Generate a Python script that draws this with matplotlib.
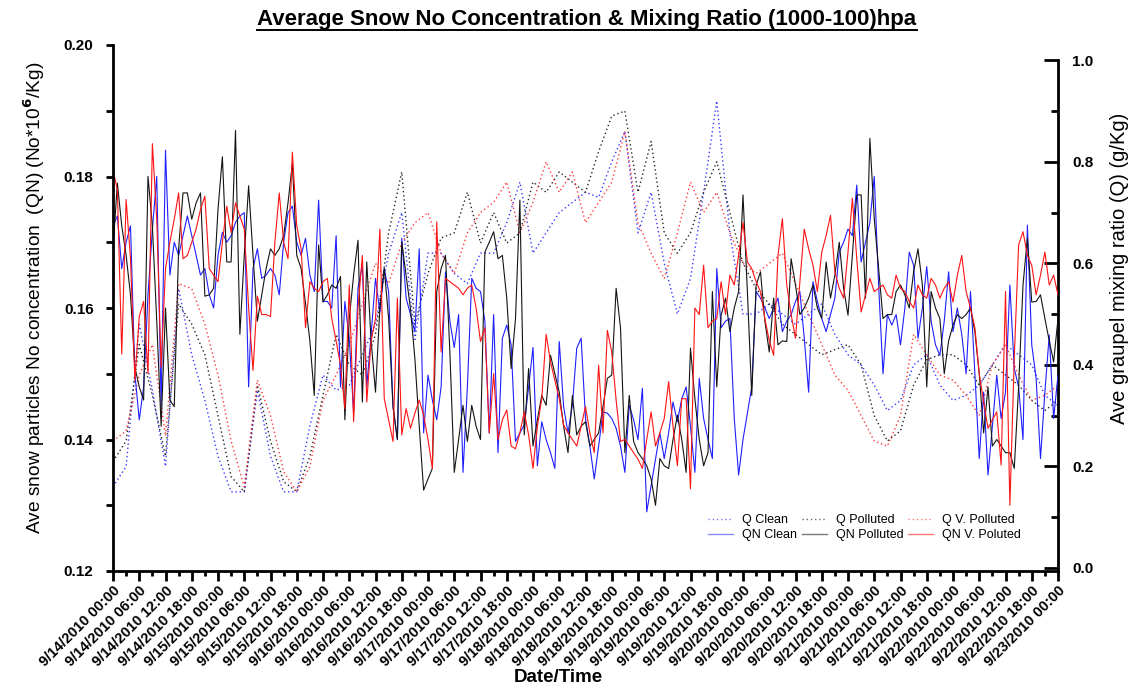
import pandas as pd
import matplotlib
matplotlib.use("Agg")
import matplotlib.pyplot as plt
import matplotlib.dates as mdates
from matplotlib import font_manager
from matplotlib.lines import Line2D

plt.rcParams['font.family'] = ['Liberation Sans', 'DejaVu Sans']

# hourly snow number concentration (left axis)
qn_clean = [
    0.1725, 0.174, 0.166, 0.170, 0.1725, 0.150, 0.143, 0.148, 0.162, 0.172, 0.180, 0.145,
    0.184, 0.165, 0.170, 0.168, 0.171, 0.174, 0.171, 0.168, 0.165, 0.166, 0.162, 0.160,
    0.168, 0.1715, 0.170, 0.171, 0.173, 0.174, 0.1745, 0.148, 0.166, 0.169, 0.1645, 0.165,
    0.166, 0.165, 0.162, 0.170, 0.1745, 0.1755, 0.170, 0.168, 0.1706, 0.165, 0.1625, 0.1764,
    0.161, 0.161, 0.160, 0.171, 0.148, 0.161, 0.1554, 0.144, 0.163, 0.1665, 0.148, 0.156,
    0.1645, 0.1594, 0.166, 0.1625, 0.145, 0.140, 0.1706, 0.1615, 0.159, 0.1564, 0.169, 0.141,
    0.1498, 0.146, 0.143, 0.148, 0.1655, 0.158, 0.154, 0.159, 0.135, 0.148, 0.1645, 0.163,
    0.1625, 0.158, 0.141, 0.159, 0.138, 0.1554, 0.1574, 0.1544, 0.1397, 0.141, 0.1422, 0.148,
    0.154, 0.136, 0.1427, 0.140, 0.138, 0.1356, 0.1549, 0.145, 0.141, 0.1452, 0.1539, 0.1554,
    0.1432, 0.139, 0.134, 0.139, 0.1442, 0.144, 0.1432, 0.1417, 0.139, 0.135, 0.1452, 0.143,
    0.140, 0.1478, 0.129, 0.133, 0.137, 0.141, 0.1371, 0.141, 0.1457, 0.1427, 0.1462, 0.148,
    0.142, 0.135, 0.1493, 0.1432, 0.140, 0.1371, 0.166, 0.157, 0.158, 0.1584, 0.1432, 0.1346,
    0.140, 0.144, 0.148, 0.1625, 0.1615, 0.160, 0.1584, 0.160, 0.1615, 0.1564, 0.158, 0.159,
    0.161, 0.1625, 0.1554, 0.1472, 0.164, 0.161, 0.1584, 0.1564, 0.159, 0.1615, 0.1685, 0.170,
    0.172, 0.171, 0.1787, 0.167, 0.170, 0.173, 0.180, 0.1635, 0.150, 0.159, 0.1574, 0.159,
    0.1544, 0.160, 0.1685, 0.1665, 0.1554, 0.160, 0.1663, 0.158, 0.1544, 0.1528, 0.158, 0.1655,
    0.1564, 0.160, 0.156, 0.150, 0.1625, 0.150, 0.1371, 0.1472, 0.1346, 0.142, 0.1498, 0.1432,
    0.1472, 0.1635, 0.1508, 0.148, 0.140, 0.1726, 0.1544, 0.1493, 0.1371, 0.1472, 0.1559, 0.1432,
    0.1498]

qn_polluted = [
    0.169, 0.179, 0.1725, 0.168, 0.162, 0.151, 0.148, 0.146, 0.180, 0.1725, 0.158, 0.142,
    0.160, 0.146, 0.145, 0.169, 0.1775, 0.1775, 0.1735, 0.176, 0.1775, 0.1618, 0.162, 0.163,
    0.175, 0.183, 0.167, 0.167, 0.187, 0.156, 0.168, 0.1786, 0.168, 0.158, 0.162, 0.166,
    0.169, 0.168, 0.169, 0.171, 0.176, 0.182, 0.168, 0.166, 0.1607, 0.155, 0.1467, 0.1696,
    0.1609, 0.162, 0.1635, 0.163, 0.1648, 0.143, 0.1584, 0.165, 0.1703, 0.1457, 0.167, 0.155,
    0.1472, 0.160, 0.166, 0.1584, 0.145, 0.140, 0.170, 0.165, 0.1599, 0.1523, 0.142, 0.1323,
    0.134, 0.1356, 0.1625, 0.166, 0.168, 0.1533, 0.135, 0.140, 0.1452, 0.1397, 0.1452, 0.142,
    0.140, 0.1685, 0.170, 0.1716, 0.1675, 0.168, 0.1615, 0.1508, 0.1584, 0.1764, 0.1407, 0.1508,
    0.139, 0.143, 0.1467, 0.1452, 0.1528, 0.150, 0.1472, 0.142, 0.138, 0.1467, 0.1407, 0.142,
    0.1427, 0.139, 0.140, 0.141, 0.145, 0.1493, 0.1498, 0.163, 0.157, 0.138, 0.1467, 0.1397,
    0.138, 0.1371, 0.136, 0.134, 0.130, 0.1371, 0.136, 0.1356, 0.140, 0.1437, 0.140, 0.135,
    0.1539, 0.1462, 0.140, 0.136, 0.138, 0.1625, 0.148, 0.1589, 0.1615, 0.1564, 0.160, 0.1625,
    0.1772, 0.1625, 0.1467, 0.1635, 0.1655, 0.158, 0.1533, 0.1615, 0.1544, 0.155, 0.1549, 0.1675,
    0.1635, 0.159, 0.160, 0.1615, 0.1635, 0.160, 0.1584, 0.167, 0.1615, 0.165, 0.170, 0.163,
    0.1589, 0.168, 0.1772, 0.1772, 0.1615, 0.1858, 0.1736, 0.166, 0.1584, 0.159, 0.159, 0.1625,
    0.1635, 0.162, 0.160, 0.1655, 0.169, 0.1635, 0.148, 0.1625, 0.160, 0.1584, 0.150, 0.155,
    0.1574, 0.159, 0.1584, 0.159, 0.160, 0.1564, 0.150, 0.141, 0.148, 0.139, 0.140, 0.139,
    0.138, 0.138, 0.1356, 0.148, 0.1635, 0.1706, 0.1609, 0.161, 0.162, 0.1584, 0.155, 0.1518,
    0.1584]

qn_vpolluted = [
    0.181, 0.178, 0.153, 0.1765, 0.1675, 0.149, 0.1587, 0.161, 0.150, 0.185, 0.1735, 0.151,
    0.166, 0.170, 0.1735, 0.1775, 0.1675, 0.168, 0.170, 0.172, 0.175, 0.177, 0.166, 0.165,
    0.164, 0.170, 0.1755, 0.1715, 0.176, 0.174, 0.172, 0.160, 0.1505, 0.1618, 0.159, 0.159,
    0.1587, 0.170, 0.1775, 0.170, 0.1675, 0.1837, 0.1725, 0.169, 0.157, 0.164, 0.163, 0.1625,
    0.164, 0.1645, 0.1584, 0.155, 0.1513, 0.1447, 0.1635, 0.1427, 0.160, 0.168, 0.1457, 0.155,
    0.1584, 0.172, 0.1462, 0.143, 0.1397, 0.1615, 0.1407, 0.1447, 0.1417, 0.144, 0.146, 0.1437,
    0.140, 0.1356, 0.1731, 0.1533, 0.1645, 0.164, 0.1635, 0.163, 0.162, 0.163, 0.1635, 0.160,
    0.1549, 0.157, 0.141, 0.150, 0.140, 0.143, 0.1445, 0.139, 0.1386, 0.141, 0.1442, 0.1407,
    0.1356, 0.142, 0.1462, 0.156, 0.1518, 0.149, 0.1462, 0.1422, 0.141, 0.140, 0.139, 0.142,
    0.145, 0.141, 0.138, 0.1513, 0.141, 0.1566, 0.1533, 0.146, 0.1397, 0.140, 0.139, 0.138,
    0.137, 0.1356, 0.140, 0.1442, 0.139, 0.141, 0.1432, 0.1488, 0.142, 0.136, 0.1462, 0.1462,
    0.1325, 0.160, 0.159, 0.1665, 0.157, 0.158, 0.1584, 0.164, 0.159, 0.165, 0.1635, 0.168,
    0.173, 0.167, 0.166, 0.164, 0.1625, 0.1584, 0.155, 0.1528, 0.168, 0.1736, 0.1635, 0.159,
    0.1554, 0.164, 0.172, 0.169, 0.1665, 0.1625, 0.1685, 0.171, 0.1741, 0.1655, 0.163, 0.1615,
    0.1685, 0.1767, 0.1675, 0.1594, 0.162, 0.1645, 0.1625, 0.163, 0.1635, 0.162, 0.1615, 0.165,
    0.163, 0.1625, 0.161, 0.160, 0.1635, 0.162, 0.1615, 0.1645, 0.1635, 0.1615, 0.163, 0.164,
    0.1609, 0.165, 0.168, 0.1625, 0.160, 0.157, 0.150, 0.1457, 0.1417, 0.143, 0.1442, 0.1361,
    0.1625, 0.130, 0.1523, 0.1696, 0.1716, 0.168, 0.1665, 0.162, 0.165, 0.1685, 0.1635, 0.165,
    0.162]

# 3-hourly graupel mixing ratio (right axis)
q_clean = [
    0.16, 0.20, 0.48, 0.35, 0.20, 0.55, 0.42, 0.33, 0.22, 0.15, 0.15, 0.35,
    0.22, 0.15, 0.15, 0.28, 0.38, 0.35, 0.36, 0.42, 0.48, 0.62, 0.70, 0.45,
    0.62, 0.62, 0.58, 0.56, 0.62, 0.62, 0.68, 0.76, 0.62, 0.66, 0.70, 0.72,
    0.74, 0.73, 0.80, 0.86, 0.66, 0.74, 0.60, 0.50, 0.57, 0.74, 0.92, 0.66,
    0.50, 0.50, 0.52, 0.50, 0.48, 0.50, 0.52, 0.46, 0.42, 0.40, 0.36, 0.31,
    0.33, 0.40, 0.42, 0.36, 0.33, 0.34, 0.36, 0.40, 0.44, 0.42, 0.40, 0.34,
    0.32]

q_polluted = [
    0.21, 0.25, 0.44, 0.34, 0.22, 0.52, 0.48, 0.42, 0.30, 0.18, 0.15, 0.36,
    0.25, 0.17, 0.15, 0.22, 0.34, 0.46, 0.40, 0.38, 0.46, 0.66, 0.78, 0.48,
    0.58, 0.65, 0.66, 0.74, 0.64, 0.70, 0.64, 0.66, 0.76, 0.74, 0.78, 0.76,
    0.74, 0.82, 0.89, 0.90, 0.74, 0.84, 0.66, 0.62, 0.66, 0.74, 0.80, 0.70,
    0.60, 0.55, 0.52, 0.48, 0.46, 0.44, 0.42, 0.43, 0.44, 0.40, 0.30, 0.25,
    0.27, 0.36, 0.41, 0.42, 0.42, 0.40, 0.36, 0.40, 0.38, 0.36, 0.33, 0.31,
    0.33]

q_vpolluted = [
    0.25, 0.27, 0.38, 0.44, 0.26, 0.56, 0.55, 0.48, 0.38, 0.25, 0.16, 0.37,
    0.30, 0.19, 0.15, 0.20, 0.33, 0.38, 0.44, 0.52, 0.60, 0.56, 0.64, 0.68,
    0.70, 0.62, 0.58, 0.66, 0.70, 0.72, 0.76, 0.66, 0.72, 0.80, 0.74, 0.78,
    0.68, 0.72, 0.76, 0.86, 0.68, 0.62, 0.57, 0.66, 0.76, 0.70, 0.74, 0.66,
    0.60, 0.58, 0.60, 0.62, 0.56, 0.50, 0.44, 0.38, 0.35, 0.30, 0.25, 0.24,
    0.30, 0.46, 0.42, 0.38, 0.37, 0.34, 0.30, 0.40, 0.44, 0.38, 0.33, 0.34,
    0.36]

t_qn = pd.date_range('2010-09-14 00:00', periods=len(qn_clean), freq='h')
t_q = pd.date_range('2010-09-14 00:00', periods=len(q_clean), freq='3h')

fig = plt.figure(figsize=(11.33, 6.89), dpi=100)
ax = fig.add_axes([113/1133, 1-571/689, (1058-113)/1133, (571-45)/689])
ax2 = ax.twinx()

dot = (0, (1, 2))
ax2.plot(t_q, q_clean, color='#3a3aff', ls=dot, lw=1.0)
ax2.plot(t_q, q_polluted, color='#262626', ls=dot, lw=1.0)
ax2.plot(t_q, q_vpolluted, color='#ff3a3a', ls=dot, lw=1.0)

ax.plot(t_qn, qn_clean, color='#1f1fff', lw=0.8)
ax.plot(t_qn, qn_polluted, color='#141414', lw=0.8)
ax.plot(t_qn, qn_vpolluted, color='#ff1414', lw=0.8)

ax.set_zorder(ax2.get_zorder() + 1)
ax.patch.set_visible(False)

ax.set_xlim(t_qn[0], t_qn[-1])
ax.set_ylim(0.12, 0.20)
ax2.set_ylim(-0.006, 1.03)

ax.xaxis.set_major_locator(mdates.HourLocator(byhour=range(0, 24, 6)))
ax.xaxis.set_minor_locator(mdates.HourLocator(byhour=range(0, 24, 3)))
ax.xaxis.set_major_formatter(plt.FuncFormatter(
    lambda v, p: (lambda d: f"{d.month}/{d.day}/{d.year} {d:%H:%M}")(mdates.num2date(v))))
ax.set_yticks([0.12, 0.14, 0.16, 0.18, 0.20])
ax.set_yticks([0.13, 0.15, 0.17, 0.19], minor=True)
ax.yaxis.set_major_formatter(plt.FormatStrFormatter('%.2f'))
ax2.set_yticks([0.0, 0.2, 0.4, 0.6, 0.8, 1.0])
ax2.set_yticks([0.1, 0.3, 0.5, 0.7, 0.9], minor=True)
ax2.yaxis.set_major_formatter(plt.FormatStrFormatter('%.1f'))

for s in ['top', 'right']:
    ax.spines[s].set_visible(False)
for s in ['top', 'left', 'bottom']:
    ax2.spines[s].set_visible(False)
ax.spines['left'].set_linewidth(2)
ax.spines['bottom'].set_linewidth(2)
ax2.spines['right'].set_linewidth(2)
ax2.spines['right'].set_bounds(-0.006, 1.0)

ax.tick_params(axis='x', which='major', direction='out', length=7, width=2, pad=2)
ax.tick_params(axis='x', which='minor', direction='out', length=3.5, width=2)
ax.tick_params(axis='y', which='both', direction='out', length=5, width=2, pad=9)
ax2.tick_params(axis='y', which='major', direction='in', length=10, width=2, pad=10)
ax2.tick_params(axis='y', which='minor', direction='in', length=5, width=2)

for lb in ax.get_xticklabels():
    lb.set_rotation(45)
    lb.set_ha('right')
    lb.set_va('top')
    lb.set_rotation_mode('anchor')
    lb.set_fontsize(10.5)
    lb.set_fontweight('bold')
for lb in ax.get_yticklabels() + ax2.get_yticklabels():
    lb.set_fontsize(11)
    lb.set_fontweight('bold')

ax.set_ylabel('Ave snow particles No concentration  (QN) (No*10$^{\\mathbf{6}}$/Kg)',
              fontsize=13.8)
ax.yaxis.set_label_coords(-0.070, 0.52)
ax2.set_ylabel('Ave graupel mixing ratio (Q) (g/Kg)', fontsize=14.5)
ax2.yaxis.set_label_coords(1.055, 0.576)
fig.text(0.493, 0.005, 'Date/Time', ha='center', va='bottom', fontsize=13.5, fontweight='bold')

# title font: narrow if available
try:
    font_manager.findfont('Liberation Sans Narrow', fallback_to_default=False)
    tfam = ['Liberation Sans Narrow', 'Liberation Sans']
except Exception:
    tfam = ['Liberation Sans']
title = fig.text(587/1133, 1-19/689, 'Average Snow No Concentration & Mixing Ratio (1000-100)hpa',
                 ha='center', va='center', fontsize=16, fontweight='bold', family=tfam)
r = fig.canvas.get_renderer()
bb = title.get_window_extent(r).transformed(fig.transFigure.inverted())
fig.add_artist(Line2D([bb.x0, bb.x1], [bb.y0 - 0.001, bb.y0 - 0.001], color='black', lw=1.4))

handles = [
    Line2D([], [], color='#7a7aff', ls=dot, lw=1.0),
    Line2D([], [], color='#8a8aff', lw=1.0),
    Line2D([], [], color='#6a6a6a', ls=dot, lw=1.0),
    Line2D([], [], color='#7a7a7a', lw=1.0),
    Line2D([], [], color='#ff7a7a', ls=dot, lw=1.0),
    Line2D([], [], color='#ff7a7a', lw=1.0),
]
labels = ['Q Clean', 'QN Clean', 'Q Polluted', 'QN Polluted', 'Q V. Polluted', 'QN V. Poluted']
fig.legend(handles, labels, loc='upper left', bbox_to_anchor=(708/1133, 1-514/689), ncol=3,
           frameon=False, fontsize=9, handlelength=2.0, handletextpad=0.7, columnspacing=0.4,
           labelspacing=0.25, borderpad=0, borderaxespad=0)

fig.savefig('out.png', dpi=100)
